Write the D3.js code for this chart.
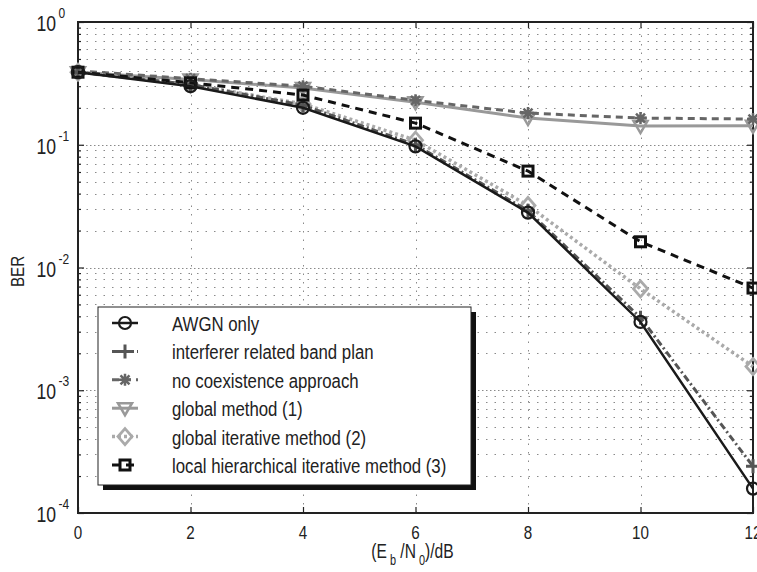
<!DOCTYPE html>
<html>
<head>
<meta charset="utf-8">
<script src="https://cdn.jsdelivr.net/npm/d3@7"></script>
<style>
  body { margin: 0; background: #fff; }
  text { font-family: "Liberation Sans", Arial, sans-serif; fill: #222; }
</style>
</head>
<body>
<div id="chart-area"></div>
<script>
let width = 757,
height = 572;

// data
let ebn0 = [0, 2, 4, 6, 8, 10, 12];
let awgnOnly = [0.39, 0.30, 0.20, 0.097, 0.028, 0.0036, 0.000158];
let interfererBandPlan = [0.39, 0.31, 0.21, 0.10, 0.029, 0.0039, 0.00024];
let noCoexistence = [0.40, 0.345, 0.30, 0.23, 0.181, 0.165, 0.162];
let globalMethod = [0.39, 0.34, 0.29, 0.222, 0.165, 0.142, 0.143];
let globalIterative = [0.39, 0.31, 0.215, 0.109, 0.032, 0.0067, 0.00156];
let localHierarchical = [0.39, 0.32, 0.254, 0.150, 0.061, 0.0162, 0.0068];

let xTicks = [0, 2, 4, 6, 8, 10, 12];
let yDecades = [-4, -3, -2, -1, 0];
let seriesNames = ["AWGN only", "interferer related band plan", "no coexistence approach",
  "global method (1)", "global iterative method (2)", "local hierarchical iterative method (3)"];

let series = [
  {name: seriesNames[0], values: awgnOnly, color: "#1a1a1a", dash: null, w: 2.5, marker: "circle"},
  {name: seriesNames[1], values: interfererBandPlan, color: "#555", dash: "7,3,2,3", w: 3, marker: "plus"},
  {name: seriesNames[2], values: noCoexistence, color: "#666", dash: "7,5", w: 3, marker: "star"},
  {name: seriesNames[3], values: globalMethod, color: "#999", dash: null, w: 3, marker: "tri"},
  {name: seriesNames[4], values: globalIterative, color: "#aaa", dash: "3,3", w: 3.5, marker: "diamond"},
  {name: seriesNames[5], values: localHierarchical, color: "#111", dash: "8,6", w: 3, marker: "square"}
];

let margin = {left: 78, right: 4, top: 22, bottom: 59};

let svg = d3.select("#chart-area").append("svg")
    .attr("width", width)
    .attr("height", height);

let x = d3.scaleLinear().domain([0, 12]).range([margin.left, width - margin.right]);
let y = d3.scaleLog().domain([1e-4, 1]).range([height - margin.bottom, margin.top]);

let x0 = x.range()[0], x1 = x.range()[1], y0 = y.range()[0], y1 = y.range()[1];

// minor values for grid
let minors = [];
for (let e = -4; e < 0; e++) {
    for (let m = 2; m <= 9; m++) minors.push(m * Math.pow(10, e));
}

let grid = svg.append("g").attr("stroke", "#8a8a8a").attr("stroke-width", 1);
grid.selectAll(".hminor").data(minors).enter().append("line")
    .attr("x1", x0).attr("x2", x1)
    .attr("y1", d => Math.round(y(d)) + 0.5).attr("y2", d => Math.round(y(d)) + 0.5)
    .attr("stroke-dasharray", "1.5,7");
grid.selectAll(".hmajor").data(yDecades.slice(1, 4)).enter().append("line")
    .attr("x1", x0).attr("x2", x1)
    .attr("y1", d => Math.round(y(Math.pow(10, d))) + 0.5).attr("y2", d => Math.round(y(Math.pow(10, d))) + 0.5)
    .attr("stroke-dasharray", "1.5,2.5");
grid.selectAll(".vmajor").data(xTicks.slice(1, 6)).enter().append("line")
    .attr("y1", y0).attr("y2", y1)
    .attr("x1", d => Math.round(x(d)) + 0.5).attr("x2", d => Math.round(x(d)) + 0.5)
    .attr("stroke-dasharray", "1.5,7");

// axes with inward ticks
let axB = svg.append("g").attr("transform", `translate(0,${y0})`)
    .call(d3.axisBottom(x).tickValues(xTicks).tickSize(-6).tickFormat(""));
let axT = svg.append("g").attr("transform", `translate(0,${y1})`)
    .call(d3.axisTop(x).tickValues(xTicks).tickSize(-6).tickFormat(""));
let axL = svg.append("g").attr("transform", `translate(${x0},0)`)
    .call(d3.axisLeft(y).tickValues(yDecades.map(d => Math.pow(10, d))).tickSize(-6).tickFormat(""));
let axR = svg.append("g").attr("transform", `translate(${x1},0)`)
    .call(d3.axisRight(y).tickValues(yDecades.map(d => Math.pow(10, d))).tickSize(-6).tickFormat(""));
let axLm = svg.append("g").attr("transform", `translate(${x0},0)`)
    .call(d3.axisLeft(y).tickValues(minors).tickSize(-3).tickFormat(""));
let axRm = svg.append("g").attr("transform", `translate(${x1},0)`)
    .call(d3.axisRight(y).tickValues(minors).tickSize(-3).tickFormat(""));
[axB, axT, axL, axR, axLm, axRm].forEach(a => {
    a.selectAll(".domain").remove();
    a.selectAll("line").attr("stroke", "#222").attr("stroke-width", 1.2);
});

// frame
svg.append("rect")
    .attr("x", x0).attr("y", y1).attr("width", x1 - x0).attr("height", y0 - y1)
    .attr("fill", "none").attr("stroke", "#222").attr("stroke-width", 2);

// tick labels
xTicks.forEach(t => {
    svg.append("text")
        .attr("transform", `translate(${x(t)},${y0 + 26}) scale(0.8,1)`)
        .attr("text-anchor", "middle")
        .style("font-size", "19px")
        .text(t);
});
yDecades.forEach(e => {
    let g = svg.append("g").attr("transform", `translate(56,${y(Math.pow(10, e)) + 9}) scale(0.8,1)`);
    g.append("text").attr("text-anchor", "end").style("font-size", "22px").text("10");
    g.append("text").attr("x", 3).attr("y", -13).style("font-size", "15px").text(e);
});

// axis titles
let xt = svg.append("text")
    .attr("transform", `translate(${(x0 + x1) / 2 - 3},${y0 + 45}) scale(0.78,1)`)
    .attr("text-anchor", "middle")
    .style("font-size", "20px");
xt.append("tspan").text("(E");
xt.append("tspan").attr("dy", 7).style("font-size", "14px").text(" b");
xt.append("tspan").attr("dy", -7).text(" /N");
xt.append("tspan").attr("dy", 7).style("font-size", "14px").text(" 0");
xt.append("tspan").attr("dy", -7).text(")/dB");

svg.append("text")
    .attr("transform", `translate(24,${(y0 + y1) / 2 + 4}) rotate(-90) scale(0.8,1)`)
    .attr("text-anchor", "middle")
    .style("font-size", "19px")
    .text("BER");

// markers
function drawMarker(g, type, color) {
    if (type === "circle") {
        g.append("circle").attr("r", 6).attr("fill", "none").attr("stroke", color).attr("stroke-width", 2.2);
    } else if (type === "plus") {
        g.append("path").attr("d", "M-7,0H7M0,-7V7").attr("stroke", color).attr("stroke-width", 3);
    } else if (type === "star") {
        g.append("path").attr("d", "M-6,0H6M0,-6V6M-4.5,-4.5L4.5,4.5M-4.5,4.5L4.5,-4.5")
            .attr("stroke", color).attr("stroke-width", 2.5);
    } else if (type === "tri") {
        g.append("path").attr("d", "M-7,-5L7,-5L0,7Z").attr("fill", "none").attr("stroke", color).attr("stroke-width", 2.5);
    } else if (type === "diamond") {
        g.append("path").attr("d", "M0,-8L7,0L0,8L-7,0Z").attr("fill", "none").attr("stroke", color).attr("stroke-width", 2.8);
    } else if (type === "square") {
        g.append("rect").attr("x", -5).attr("y", -5).attr("width", 10).attr("height", 10)
            .attr("fill", "none").attr("stroke", color).attr("stroke-width", 3);
    }
}

let line = d3.line().x(d => x(d[0])).y(d => y(d[1]));

// draw from back to front
let order = [3, 2, 4, 1, 5, 0];
order.forEach(i => {
    let s = series[i];
    let pts = ebn0.map((e, k) => [e, s.values[k]]);
    svg.append("path")
        .datum(pts)
        .attr("d", line)
        .attr("fill", "none")
        .attr("stroke", s.color)
        .attr("stroke-width", s.w)
        .attr("stroke-dasharray", s.dash);
    svg.selectAll(".m" + i).data(pts).enter().append("g")
        .attr("class", "m" + i)
        .attr("transform", d => `translate(${x(d[0])},${y(d[1])})`)
        .each(function() { drawMarker(d3.select(this), s.marker, s.color); });
});

// legend
let lg = {x: 98, y: 307, w: 373, h: 178};
svg.append("rect").attr("x", lg.x + 5).attr("y", lg.y + 5).attr("width", lg.w).attr("height", lg.h).attr("fill", "#111");
svg.append("rect").attr("x", lg.x).attr("y", lg.y).attr("width", lg.w).attr("height", lg.h)
    .attr("fill", "#fff").attr("stroke", "#222").attr("stroke-width", 1);

series.forEach((s, i) => {
    let ry = lg.y + 16 + i * 28.4;
    svg.append("line")
        .attr("x1", lg.x + 14).attr("x2", lg.x + 40).attr("y1", ry).attr("y2", ry)
        .attr("stroke", s.color).attr("stroke-width", s.w)
        .attr("stroke-dasharray", s.dash);
    let mg = svg.append("g").attr("transform", `translate(${lg.x + 27},${ry})`);
    drawMarker(mg, s.marker, s.color);
    svg.append("text")
        .attr("transform", `translate(${lg.x + 74},${ry + 8}) scale(0.8,1)`)
        .style("font-size", "21px")
        .text(s.name);
});
</script>
</body>
</html>
